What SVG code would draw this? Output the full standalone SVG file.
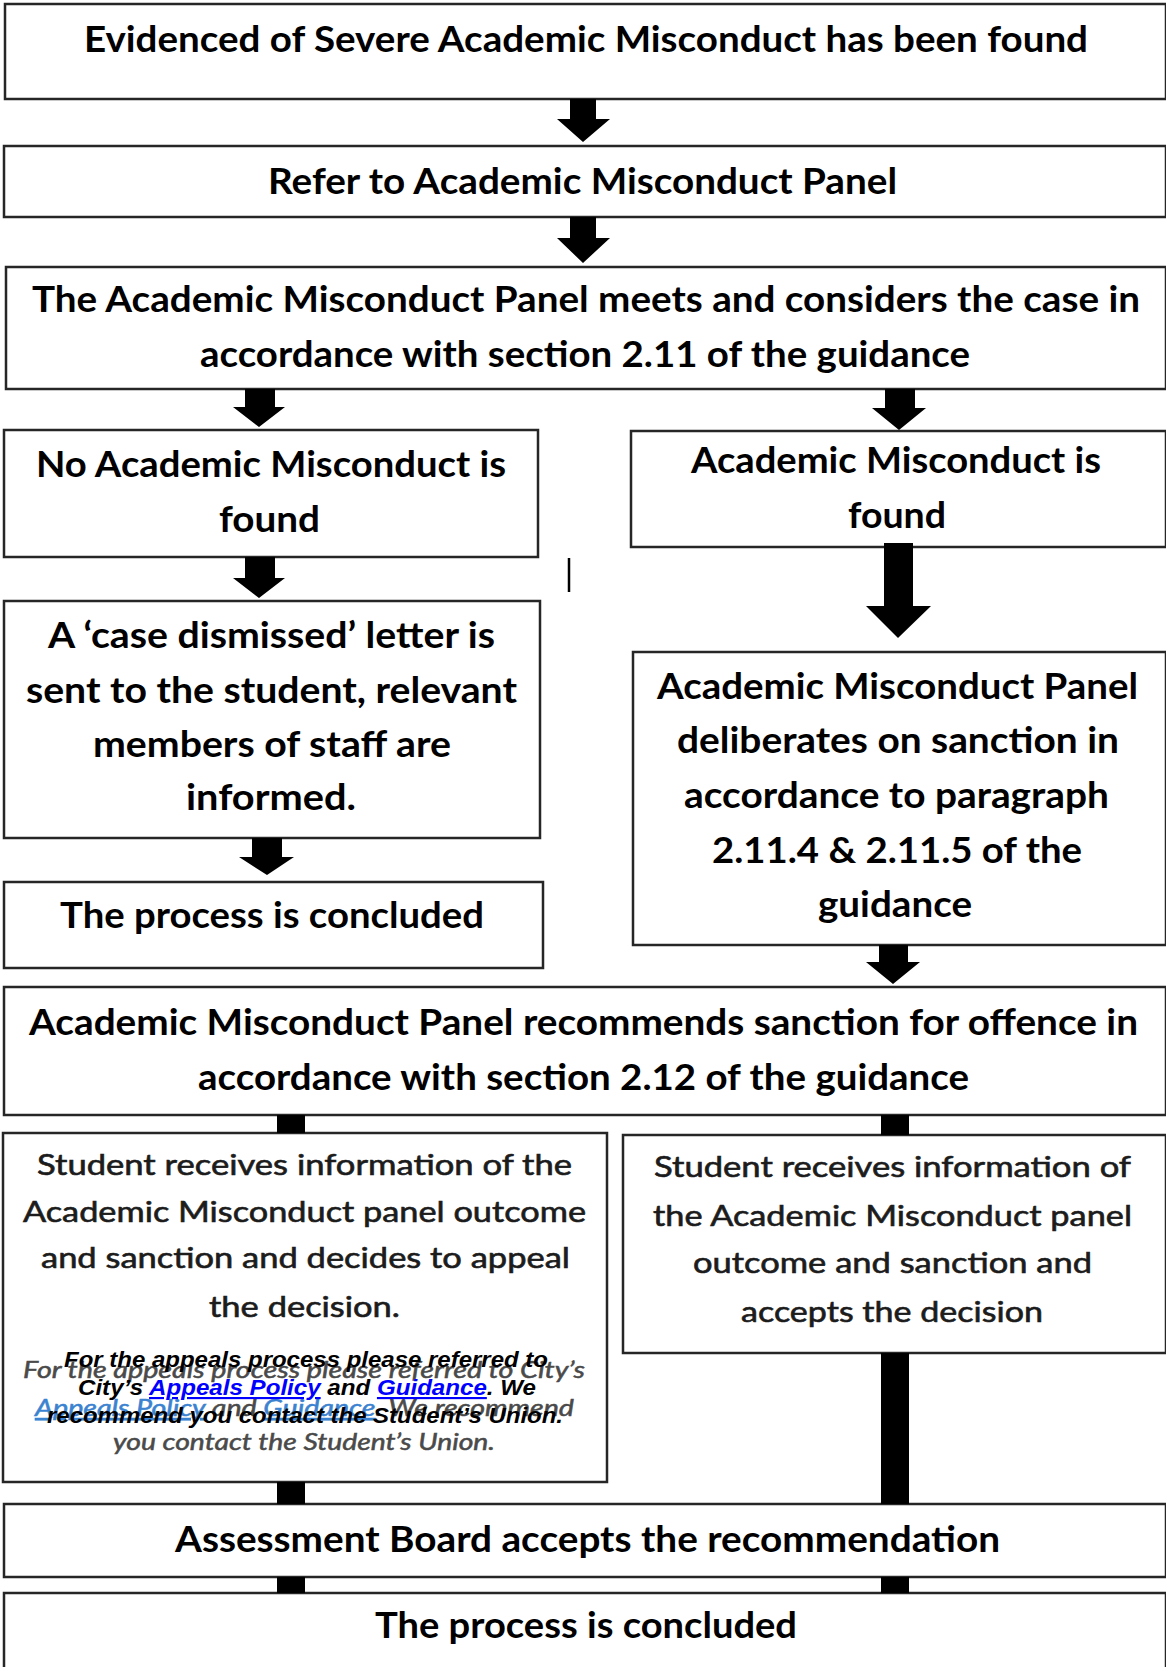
<svg xmlns="http://www.w3.org/2000/svg" width="1166" height="1667" viewBox="0 0 1166 1667">
<style>
.box{fill:#fff;stroke:#262626;stroke-width:2.5}
.b{font-family:Lato,"Liberation Sans",sans-serif;font-weight:700;font-size:36px;fill:#000}
.r{font-family:Lato,"Liberation Sans",sans-serif;font-weight:400;font-size:28px;fill:#1c1c1c;stroke:#1c1c1c;stroke-width:0.6}
.gi{font-family:Lato,"Liberation Sans",sans-serif;font-style:italic;font-size:22.5px;fill:#4a4a4a;stroke:#4a4a4a;stroke-width:0.5}
.gl{fill:#3b82d0;stroke:#3b82d0;text-decoration:underline}
.bi{font-family:"Liberation Sans",Arial,sans-serif;font-style:italic;font-weight:700;font-size:21.5px;fill:#000}
.lk{fill:#0000ff;text-decoration:underline}
.c{fill:#000}
</style>
<rect width="1166" height="1667" fill="#fff"/>

<g id="n1">
<rect class="box" x="5" y="4" width="1161" height="95"/>
<text class="b" x="84" y="52" textLength="1004" lengthAdjust="spacingAndGlyphs">Evidenced of Severe Academic Misconduct has been found</text>
</g>
<g id="n2">
<rect class="box" x="4" y="146" width="1162" height="71"/>
<text class="b" x="268" y="194" textLength="629" lengthAdjust="spacingAndGlyphs">Refer to Academic Misconduct Panel</text>
</g>
<g id="n3">
<rect class="box" x="6" y="267" width="1160" height="122"/>
<text class="b" x="32" y="312" textLength="1108" lengthAdjust="spacingAndGlyphs">The Academic Misconduct Panel meets and considers the case in</text>
<text class="b" x="200" y="367" textLength="770" lengthAdjust="spacingAndGlyphs">accordance with section 2.11 of the guidance</text>
</g>
<g id="n4">
<rect class="box" x="4" y="430" width="534" height="127"/>
<text class="b" x="36" y="477" textLength="470" lengthAdjust="spacingAndGlyphs">No Academic Misconduct is</text>
<text class="b" x="219" y="532" textLength="101" lengthAdjust="spacingAndGlyphs">found</text>
</g>
<g id="n5">
<rect class="box" x="631" y="431" width="535" height="116"/>
<text class="b" x="691" y="473" textLength="410" lengthAdjust="spacingAndGlyphs">Academic Misconduct is</text>
<text class="b" x="848" y="528" textLength="98" lengthAdjust="spacingAndGlyphs">found</text>
</g>
<g id="n6">
<rect class="box" x="4" y="601" width="536" height="237"/>
<text class="b" x="48" y="648" textLength="447" lengthAdjust="spacingAndGlyphs">A ‘case dismissed’ letter is</text>
<text class="b" x="26" y="703" textLength="491" lengthAdjust="spacingAndGlyphs">sent to the student, relevant</text>
<text class="b" x="93" y="757" textLength="358" lengthAdjust="spacingAndGlyphs">members of staff are</text>
<text class="b" x="186" y="810" textLength="170" lengthAdjust="spacingAndGlyphs">informed.</text>
</g>
<g id="n7">
<rect class="box" x="633" y="652" width="533" height="293"/>
<text class="b" x="657" y="699" textLength="481" lengthAdjust="spacingAndGlyphs">Academic Misconduct Panel</text>
<text class="b" x="677" y="753" textLength="442" lengthAdjust="spacingAndGlyphs">deliberates on sanction in</text>
<text class="b" x="684" y="808" textLength="425" lengthAdjust="spacingAndGlyphs">accordance to paragraph</text>
<text class="b" x="712" y="863" textLength="370" lengthAdjust="spacingAndGlyphs">2.11.4 &amp; 2.11.5 of the</text>
<text class="b" x="818" y="917" textLength="154" lengthAdjust="spacingAndGlyphs">guidance</text>
</g>
<g id="n8">
<rect class="box" x="4" y="882" width="539" height="86"/>
<text class="b" x="60" y="928" textLength="424" lengthAdjust="spacingAndGlyphs">The process is concluded</text>
</g>
<g id="n9">
<rect class="box" x="4" y="987" width="1162" height="128"/>
<text class="b" x="29" y="1035" textLength="1109" lengthAdjust="spacingAndGlyphs">Academic Misconduct Panel recommends sanction for offence in</text>
<text class="b" x="198" y="1090" textLength="771" lengthAdjust="spacingAndGlyphs">accordance with section 2.12 of the guidance</text>
</g>
<g id="n10">
<rect class="box" x="3" y="1133" width="604" height="349"/>
<text class="r" x="37" y="1175" textLength="535" lengthAdjust="spacingAndGlyphs">Student receives information of the</text>
<text class="r" x="23" y="1222" textLength="563" lengthAdjust="spacingAndGlyphs">Academic Misconduct panel outcome</text>
<text class="r" x="41" y="1268" textLength="529" lengthAdjust="spacingAndGlyphs">and sanction and decides to appeal</text>
<text class="r" x="209" y="1317" textLength="191" lengthAdjust="spacingAndGlyphs">the decision.</text>
<text class="gi" x="23" y="1378" textLength="562" lengthAdjust="spacingAndGlyphs">For the appeals process please referred to City’s</text>
<text class="gi" x="35" y="1416" textLength="539" lengthAdjust="spacingAndGlyphs"><tspan class="gl">Appeals Policy</tspan> and <tspan class="gl">Guidance</tspan>. We recommend</text>
<text class="gi" x="113" y="1450" textLength="382" lengthAdjust="spacingAndGlyphs">you contact the Student’s Union.</text>
<text class="bi" x="64" y="1367" textLength="484" lengthAdjust="spacingAndGlyphs">For the appeals process please referred to</text>
<text class="bi" x="78" y="1395" textLength="458" lengthAdjust="spacingAndGlyphs">City’s <tspan class="lk">Appeals Policy</tspan> and <tspan class="lk">Guidance</tspan>. We</text>
<text class="bi" x="47" y="1423" textLength="516" lengthAdjust="spacingAndGlyphs">recommend you contact the Student’s Union.</text>
</g>
<g id="n11">
<rect class="box" x="623" y="1135" width="543" height="218"/>
<text class="r" x="654" y="1177" textLength="477" lengthAdjust="spacingAndGlyphs">Student receives information of</text>
<text class="r" x="653" y="1226" textLength="479" lengthAdjust="spacingAndGlyphs">the Academic Misconduct panel</text>
<text class="r" x="693" y="1273" textLength="399" lengthAdjust="spacingAndGlyphs">outcome and sanction and</text>
<text class="r" x="741" y="1322" textLength="302" lengthAdjust="spacingAndGlyphs">accepts the decision</text>
</g>
<g id="n12">
<rect class="box" x="4" y="1504" width="1162" height="73"/>
<text class="b" x="175" y="1552" textLength="825" lengthAdjust="spacingAndGlyphs">Assessment Board accepts the recommendation</text>
</g>
<g id="n13">
<rect class="box" x="4" y="1593" width="1162" height="76"/>
<text class="b" x="375" y="1638" textLength="422" lengthAdjust="spacingAndGlyphs">The process is concluded</text>
</g>

<g id="connectors">
<polygon class="c" points="570,99 596,99 596,119 610,119 583,142 557,119 570,119"/>
<polygon class="c" points="570,217 596,217 596,238 610,238 583,263 557,238 570,238"/>
<polygon class="c" points="245,389 275,389 275,407 285,407 259,427 233,407 245,407"/>
<polygon class="c" points="885,389 915,389 915,408 926,408 899,430 872,408 885,408"/>
<polygon class="c" points="245,557 275,557 275,578 285,578 259,598 233,578 245,578"/>
<polygon class="c" points="884,543 913,543 913,606 931,606 898,638 866,606 884,606"/>
<polygon class="c" points="252,838 282,838 282,857 294,857 267,875 239,857 252,857"/>
<polygon class="c" points="879,945 908,945 908,962 920,962 893,984 866,962 879,962"/>
<rect class="c" x="277" y="1115" width="28" height="18"/>
<rect class="c" x="277" y="1482" width="28" height="22"/>
<rect class="c" x="277" y="1577" width="28" height="16"/>
<rect class="c" x="881" y="1115" width="28" height="20"/>
<rect class="c" x="881" y="1353" width="28" height="151"/>
<rect class="c" x="881" y="1577" width="28" height="16"/>
<line x1="569" y1="558" x2="569" y2="592" stroke="#000" stroke-width="2.5"/>
</g>
</svg>
